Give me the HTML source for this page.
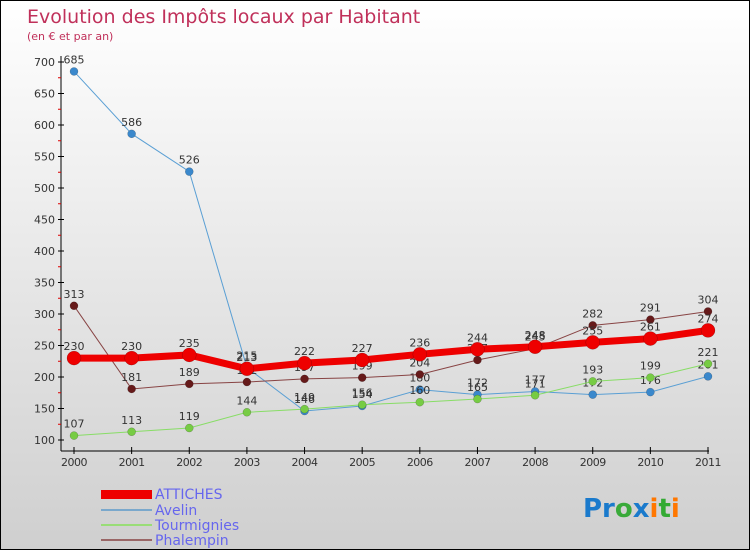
<!DOCTYPE html>
<html><head><meta charset="utf-8"><style>
body{margin:0}
#c{width:748px;height:548px;border:1px solid #000;background:linear-gradient(#fff,#cfcfcf);position:relative;font-family:"DejaVu Sans","Liberation Sans",sans-serif;overflow:hidden}
</style></head><body>
<div id="c">
<svg width="748" height="548" font-family="DejaVu Sans, Liberation Sans, sans-serif">
<text x="26" y="22" font-size="19" fill="#c0305a">Evolution des Impôts locaux par Habitant</text>
<text x="26" y="39" font-size="11" fill="#c0305a">(en € et par an)</text>
<g id="axes"></g><g id="series"></g>
<g>
<rect x="100" y="489" width="51" height="9" fill="#e00"/>
<text x="154" y="498" font-size="14" fill="#6666ee">ATTICHES</text>
<line x1="100" y1="509" x2="151" y2="509" stroke="#7aa8cc" stroke-width="2"/>
<text x="154" y="514" font-size="14" fill="#6666ee">Avelin</text>
<line x1="100" y1="524" x2="151" y2="524" stroke="#99dd77" stroke-width="2"/>
<text x="154" y="529" font-size="14" fill="#6666ee">Tourmignies</text>
<line x1="100" y1="539" x2="151" y2="539" stroke="#996666" stroke-width="2"/>
<text x="154" y="544" font-size="14" fill="#6666ee">Phalempin</text>
</g>
<text x="582" y="516" font-size="26" font-weight="bold"><tspan fill="#1a7acc">Pr</tspan><tspan fill="#3aaa3a">o</tspan><tspan fill="#1a7acc">x</tspan><tspan fill="#ff7700">i</tspan><tspan fill="#33aa33">t</tspan><tspan fill="#ff7700">i</tspan></text>
</svg></div>
<script>
const years=["2000","2001","2002","2003","2004","2005","2006","2007","2008","2009","2010","2011"];
const yTicks=[100,150,200,250,300,350,400,450,500,550,600,650,700];
const attiches=[230,230,235,213,222,227,236,244,248,255,261,274];
const avelin=[685,586,526,215,146,154,180,172,177,172,176,201];
const tourmignies=[107,113,119,144,149,156,160,165,171,193,199,221];
const phalempin=[313,181,189,192,197,199,204,227,245,282,291,304];
const NS="http://www.w3.org/2000/svg";
const X=i=>73+i*(634/(years.length-1));
const Y=v=>439-(v-100)*0.63;
function mk(t,a,p){const e=document.createElementNS(NS,t);for(const k in a)e.setAttribute(k,a[k]);p.appendChild(e);return e;}
const ax=document.getElementById('axes');
let e=mk('line',{x1:60,y1:55,x2:60,y2:450,stroke:'#000'},ax);


e=mk('line',{x1:60,y1:450,x2:708,y2:450,stroke:'#000'},ax);


yTicks.forEach((v,i)=>{const y=Y(v);
 mk('line',{x1:57,y1:y,x2:63,y2:y,stroke:'#000'},ax);
 if(i<yTicks.length-1)mk('line',{x1:57,y1:Y(v+25),x2:60,y2:Y(v+25),stroke:'#d00'},ax);
 const t=mk('text',{x:54,y:y+4,'font-size':11,fill:'#333','text-anchor':'end'},ax);t.textContent=v;
 
 });
years.forEach((yr,i)=>{const x=X(i);
 mk('line',{x1:x,y1:446,x2:x,y2:453,stroke:'#000'},ax);
 const t=mk('text',{x:x,y:465,'font-size':11,fill:'#333','text-anchor':'middle','letter-spacing':'-0.5'},ax);t.textContent=yr;
 
 });
const sg=document.getElementById('series');
function draw(name,data,col,w,r,dot){
 const g=mk('g',{},sg);
 
 
 const l=mk('polyline',{points:data.map((v,i)=>X(i)+','+Y(v)).join(' '),fill:'none',stroke:col,'stroke-width':w},g);
 
 
 data.forEach((v,i)=>{const c=mk('circle',{cx:X(i),cy:Y(v),r:r,fill:dot,stroke:'rgba(0,0,0,0.3)','stroke-width':0.5},g);
  
  
  const t=mk('text',{x:X(i),y:Y(v)-8,'font-size':11,fill:'#333','text-anchor':'middle'},g);t.textContent=v;
  
  });
}
draw('avelin',avelin,'#5a9fd4',1,4,'#3a88cc');
draw('tourmignies',tourmignies,'#88dd66',1,4,'#77cc44');
draw('phalempin',phalempin,'#884444',1,4,'#661a1a');
draw('attiches',attiches,'#ee0000',7,7,'#ee0000');
</script>
</body></html>
